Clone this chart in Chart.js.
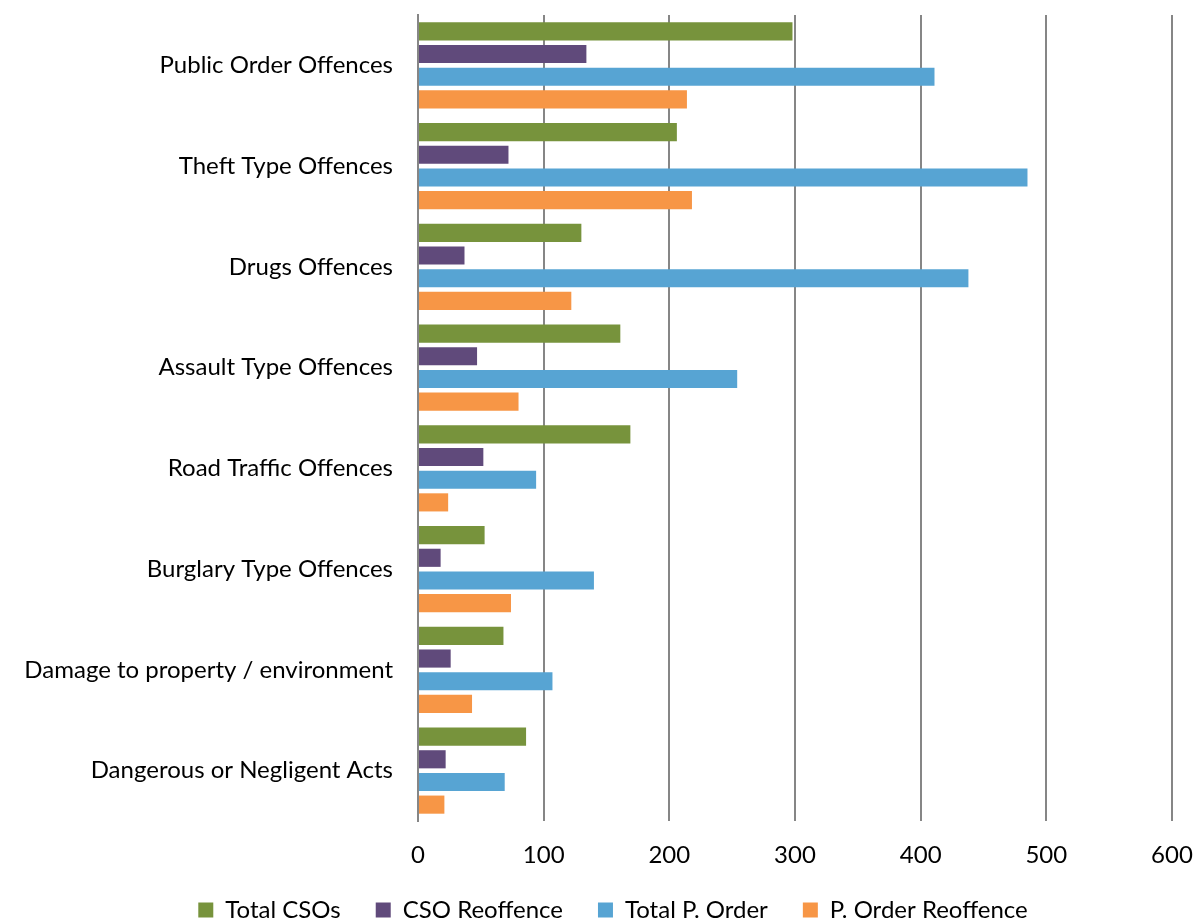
<!DOCTYPE html>
<html>
<head>
<meta charset="utf-8">
<script src="https://cdn.jsdelivr.net/npm/chart.js@4/dist/chart.umd.min.js"></script>
<style>
  html, body { margin: 0; padding: 0; background: #fff; }
  #wrap { width: 1201px; height: 921px; }
</style>
</head>
<body>
<div id="wrap"><canvas id="myChart" width="1201" height="921"></canvas></div>
<script>
var categories = ['Public Order Offences', 'Theft Type Offences', 'Drugs Offences', 'Assault Type Offences',
                  'Road Traffic Offences', 'Burglary Type Offences', 'Damage to property / environment',
                  'Dangerous or Negligent Acts'];
var totalCSOs       = [298, 206, 130, 161, 169, 53, 68, 86];
var csoReoffence    = [134, 72, 37, 47, 52, 18, 26, 22];
var totalPOrder     = [411, 485, 438, 254, 94, 140, 107, 69];
var pOrderReoffence = [214, 218, 122, 80, 24, 74, 43, 21];
var xTicks = [0, 100, 200, 300, 400, 500, 600];

var police = "Lato, 'Open Sans', sans-serif";

var canvas  = document.getElementById('myChart');
var context = canvas.getContext('2d');

function serie(label, data, couleur) {
    return {
        label: label,
        data: data,
        backgroundColor: couleur,
        borderWidth: 0,
        categoryPercentage: 0.9,
        barPercentage: 0.8
    };
}

// legende : hauteur fixe, dessinee avec un petit decalage (sans clip)
var legendeFixe = {
    id: 'legendeFixe',
    beforeInit: function(chart) {
        var leg = chart.legend;
        var fitOrig = leg.fit;
        leg.fit = function() {
            fitOrig.bind(leg)();
            this.height = 51;
        };
        leg.draw = function() {
            var ctx = chart.ctx;
            ctx.save();
            ctx.translate(27, -7);
            leg._draw();
            ctx.restore();
        };
    }
};

var myChart = new Chart(context, {
    type: 'bar',
    data: {
        labels: categories,
        datasets: [
            serie('Total CSOs', totalCSOs, '#77933C'),
            serie('CSO Reoffence', csoReoffence, '#604A7B'),
            serie('Total P. Order', totalPOrder, '#57A4D3'),
            serie('P. Order Reoffence', pOrderReoffence, '#F79646')
        ]
    },
    plugins: [legendeFixe],
    options: {
        indexAxis: 'y',
        responsive: false,
        animation: false,
        layout: { padding: { top: 15, right: 29, bottom: 0, left: 0 } },
        plugins: {
            tooltip: { enabled: false },
            legend: {
                position: 'bottom',
                labels: {
                    color: '#000',
                    font: { family: police, size: 24 },
                    boxWidth: 15,
                    boxHeight: 15,
                    padding: 35
                }
            }
        },
        scales: {
            x: {
                min: 0,
                max: 600,
                afterBuildTicks: function(scale) {
                    scale.ticks = xTicks.map(function(v) { return { value: v }; });
                },
                afterFit: function(scale) {
                    scale.height = 49;
                    scale.paddingLeft = 0;
                    scale.paddingRight = 0;
                },
                grid: { color: '#868686', lineWidth: 2, drawTicks: true, tickLength: 1, tickColor: 'rgba(0,0,0,0)' },
                border: { display: false },
                ticks: {
                    color: '#000',
                    padding: 19,
                    font: { family: police, size: 24 }
                }
            },
            y: {
                afterFit: function(scale) {
                    scale.width = 418;
                    scale.paddingTop = 0;
                    scale.paddingBottom = 0;
                },
                grid: { display: false, drawTicks: false },
                border: { display: true, color: '#868686', width: 2 },
                ticks: {
                    color: '#000',
                    padding: 25,
                    font: { family: police, size: 24 }
                }
            }
        }
    }
});
</script>
</body>
</html>
